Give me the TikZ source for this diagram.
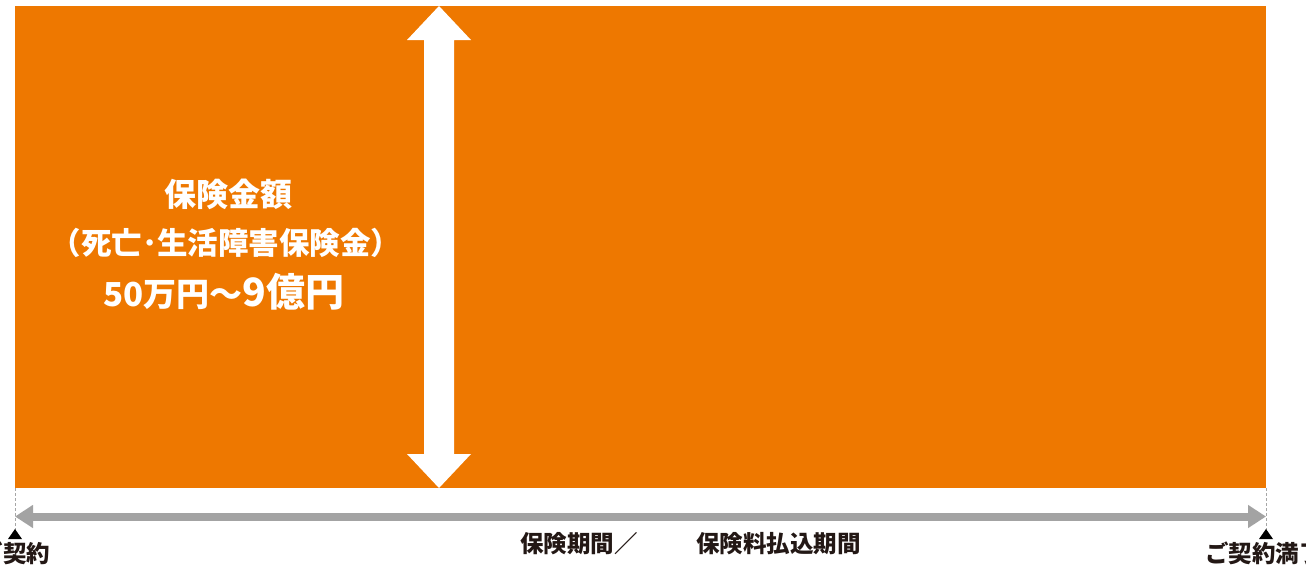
\documentclass[tikz,border=0pt]{standalone}
\usepackage{fontspec}
\newfontfamily\jp{Noto Sans CJK JP}
\definecolor{orangebg}{HTML}{EE7800}
\definecolor{grayarrow}{HTML}{A3A3A3}
\definecolor{darktext}{HTML}{231815}
\usetikzlibrary{arrows.meta}
\tikzset{
  wtext/.style={text=white,font=\jp\bfseries,inner sep=0pt,anchor=center},
  btext/.style={text=darktext,font=\jp\bfseries\fontsize{23.5}{23.5}\selectfont,inner sep=0pt},
  guide/.style={draw=gray!70,dashed,dash pattern=on 3pt off 2pt,line width=0.8pt},
  mark tri/.style={fill=black,draw=none},
}
\begin{document}
\begin{tikzpicture}[x=1pt,y=-1pt]
\useasboundingbox (0,0) rectangle (1306,571);
\clip (0,0) rectangle (1306,571);
% orange area
\fill[orangebg] (15,6) rectangle (1266,488);
% white double arrow
\fill[white] (439,6) -- (471,40) -- (454,40) -- (454,454) -- (471,454) -- (439,488)
  -- (407,454) -- (424,454) -- (424,40) -- (407,40) -- cycle;
% text
\node[wtext,font=\jp\bfseries\fontsize{32}{32}\selectfont] (t1) at (228,194) {保険金額};
\node[wtext,font=\jp\bfseries\fontsize{30.5}{30.5}\selectfont] (t2) at (226,243) {（死亡･生活障害保険金）};
\node[wtext] (t3) at (224,292) {\fontsize{33}{33}\selectfont 50万円～\fontsize{39}{39}\selectfont 9億円};
% guides
\coordinate (gl) at (15,488);
\coordinate (gr) at (1266,488);
\coordinate (gl2) at (15,530);
\coordinate (gr2) at (1266,530);
\draw[guide] (gl) -- (gl2);
\draw[guide] (gr) -- (gr2);
% gray arrow
\coordinate (al) at (15,516.5);
\coordinate (ar) at (1266,516.5);
\draw[grayarrow,line width=8pt,{Triangle[length=18pt,width=22pt]}-{Triangle[length=18pt,width=22pt]}] (al) -- (ar);
% triangles
\fill[mark tri] (15,529) -- (22,539) -- (8,539) -- cycle;
\fill[mark tri] (1266,529) -- (1273,539) -- (1259,539) -- cycle;
% labels
\node[btext] (start) at (15,553) {ご契約};
\node[btext] (end) at (1264,553) {ご契約満了};
\node[btext,anchor=west] (p1) at (520,544) {保険期間／};
\node[btext,anchor=west] (p2) at (696,544) {保険料払込期間};
\end{tikzpicture}
\end{document}
